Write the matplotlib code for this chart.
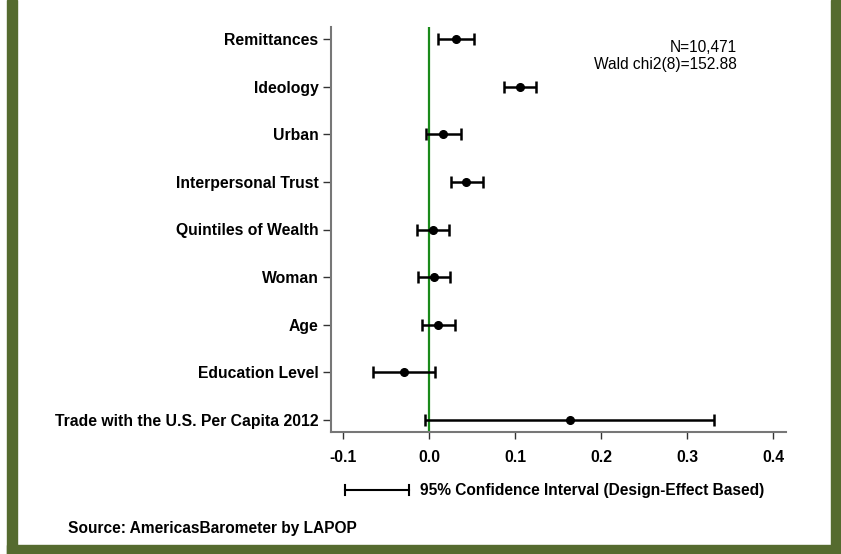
import matplotlib
matplotlib.use('Agg')
import matplotlib.pyplot as plt
from matplotlib.patches import Rectangle

plt.rcParams['font.family'] = ['Liberation Sans', 'DejaVu Sans']

labels = ['Remittances', 'Ideology', 'Urban', 'Interpersonal Trust',
          'Quintiles of Wealth', 'Woman', 'Age', 'Education Level',
          'Trade with the U.S. Per Capita 2012']
coef = [0.0307, 0.105, 0.0163, 0.043, 0.0043, 0.0051, 0.0101, -0.0298, 0.1636]
lo = [0.010, 0.0865, -0.0035, 0.0249, -0.014, -0.0128, -0.0085, -0.0655, -0.005]
hi = [0.0516, 0.124, 0.0369, 0.0624, 0.0229, 0.0237, 0.0299, 0.0066, 0.3314]
xticks = [-0.1, 0.0, 0.1, 0.2, 0.3, 0.4]

W, H = 841, 554
fig = plt.figure(figsize=(W / 100, H / 100), dpi=100)
fig.patch.set_facecolor('white')

# olive frame (top is cropped off in the original)
olive = '#556b2f'
fig.add_artist(Rectangle((7 / W, 0), 10 / W, 1, transform=fig.transFigure, color=olive, zorder=0))
fig.add_artist(Rectangle((831 / W, 0), 10 / W, 1, transform=fig.transFigure, color=olive, zorder=0))
fig.add_artist(Rectangle((7 / W, 0), 834 / W, 9 / H, transform=fig.transFigure, color=olive, zorder=0))

ax = fig.add_axes([331 / W, (H - 432) / H, (786 - 331) / W, (432 - 27) / H])
ypos = [len(labels) - 1 - i for i in range(len(labels))]

ax.axvline(0, color='#1a8a1a', lw=1.6, zorder=1)
xerr = [[c - l for c, l in zip(coef, lo)], [h - c for c, h in zip(coef, hi)]]
ax.errorbar(coef, ypos, xerr=xerr, fmt='o', color='black', ms=5.5,
            elinewidth=1.8, capsize=4, capthick=1.8, zorder=3)

ax.set_xlim(-0.1143, 0.4148)
ax.set_ylim(-0.25, len(labels) - 0.75)
ax.set_yticks(ypos)
ax.set_yticklabels(labels, fontsize=11.3, fontweight='bold')
ax.set_xticks(xticks)
ax.set_xticklabels(['%.1f' % t for t in xticks], fontsize=11.3, fontweight='bold')
for s in ['top', 'right']:
    ax.spines[s].set_visible(False)
for s in ['left', 'bottom']:
    ax.spines[s].set_color('#777777')
    ax.spines[s].set_linewidth(1.5)
ax.tick_params(axis='y', length=6, width=1, color='#333333', pad=3)
ax.tick_params(axis='x', length=5, width=1, color='#333333', pad=8)

fig.text(737 / W, 1 - 48 / H, 'N=10,471', ha='right', va='center', fontsize=11.2)
fig.text(737 / W, 1 - 65 / H, 'Wald chi2(8)=152.88', ha='right', va='center', fontsize=11.2)

# legend for the CI bar
ly = 1 - 490 / H
fig.add_artist(plt.Line2D([345 / W, 409 / W], [ly, ly], color='black', lw=1.5))
for lx in (345, 409):
    fig.add_artist(plt.Line2D([lx / W, lx / W], [ly - 5 / H, ly + 5 / H], color='black', lw=1.5))
fig.text(420 / W, ly, '95% Confidence Interval (Design-Effect Based)', ha='left', va='center',
         fontsize=11.2, fontweight='bold')

fig.text(68 / W, 1 - 528 / H, 'Source: AmericasBarometer by LAPOP', ha='left', va='center',
         fontsize=11.2, fontweight='bold')

fig.savefig('out.png', dpi=100)
